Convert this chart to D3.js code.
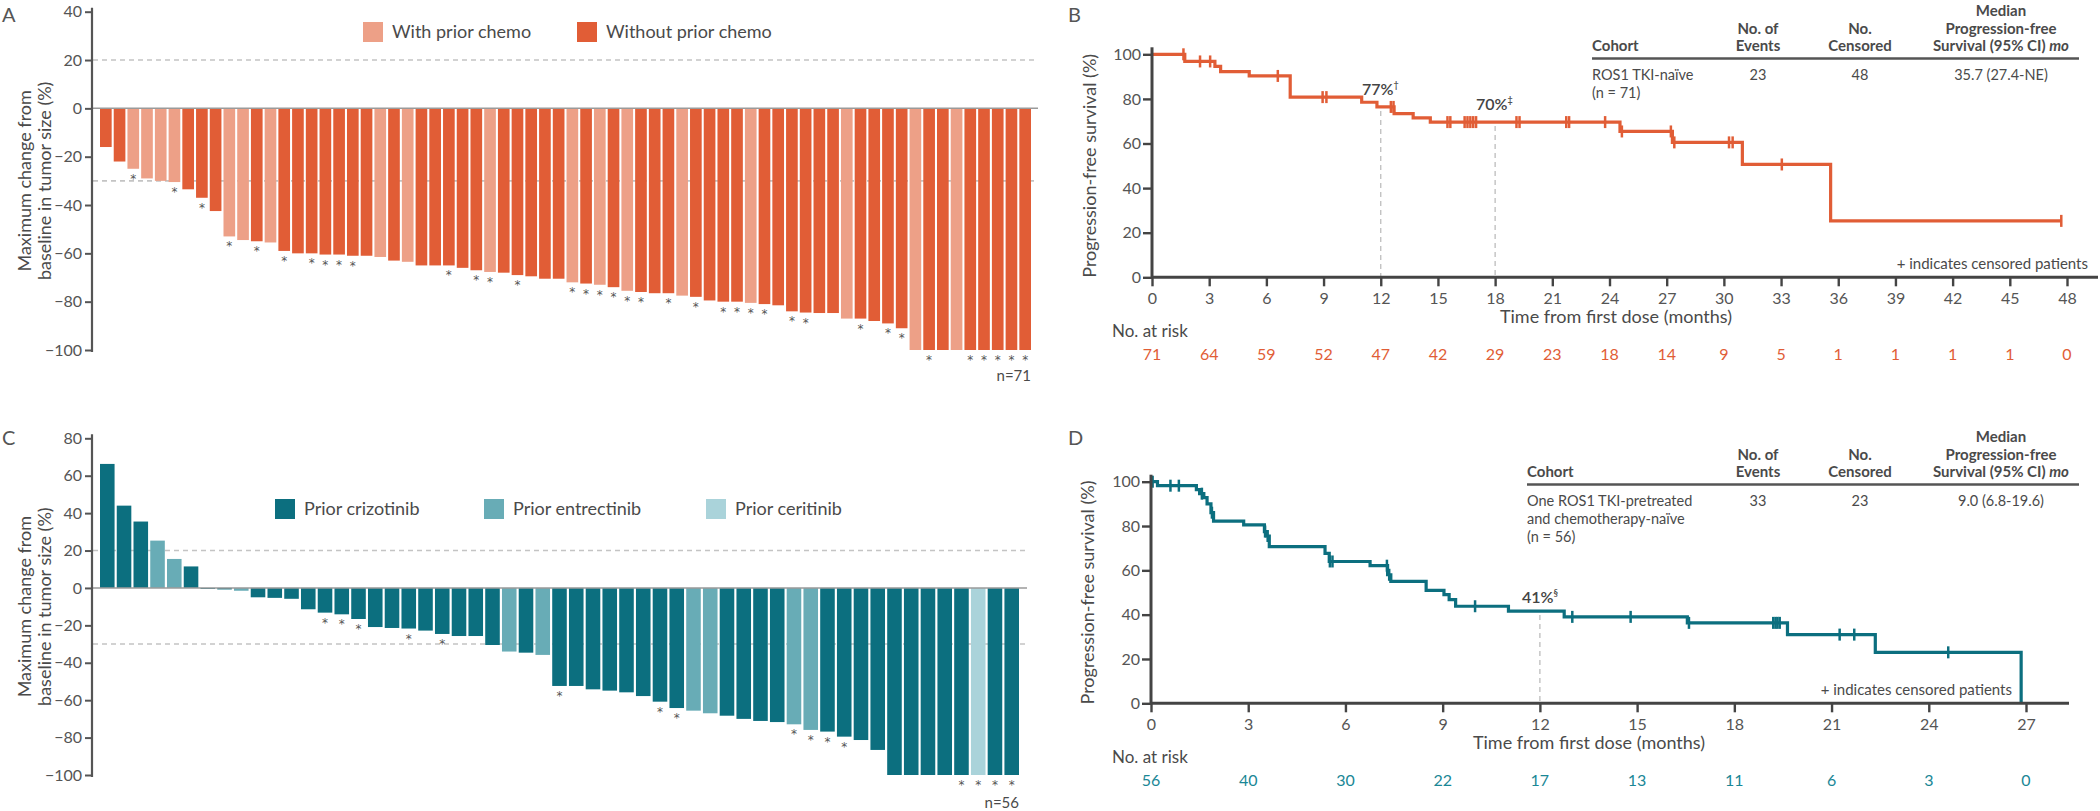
<!DOCTYPE html>
<html><head><meta charset="utf-8">
<script src="https://cdn.jsdelivr.net/npm/d3@7"></script>
<style>body{margin:0;background:#fff;} svg{display:block;}</style>
</head><body><svg id="c" width="2100" height="811"></svg>
<script>
// ---------- DATA ----------
// Panel A: waterfall, ROS1 TKI-naive
const valuesA = [-16,-22,-25,-29,-30,-30.5,-33.5,-37,-42.5,-53,-54.5,-55,-55.5,-59,-60,-60,-60.5,-60.5,-61,-61,
 -61.5,-63,-63.5,-65,-65,-65,-66,-67,-67.7,-68,-69,-69.5,-70.5,-70.5,-72,-72.5,-73,-74,-75.5,-76,
 -76.5,-76.5,-77.5,-78,-79.5,-80,-80,-80.5,-81,-81.5,-84,-84.5,-84.7,-84.7,-87,-87,-88,-89,-91,
 -100,-100,-100,-100,-100,-100,-100,-100,-100];
const withChemoA = [3,4,5,6,10,11,13,21,23,29,35,37,39,43,48,55,60,63]; // 1-based bar numbers
const starsA = [3,6,8,10,12,14,16,17,18,19,26,28,29,31,35,36,37,38,39,40,42,44,46,47,48,49,51,52,56,58,59,61,64,65,66,67,68];
const ticksA = [40,20,0,-20,-40,-60,-80,-100];
const legendA = ["With prior chemo","Without prior chemo"];

// Panel C: waterfall, one prior ROS1 TKI
const valuesC = [66.3,44,35.5,25.3,15.5,11.5,-0.4,-0.8,-1.5,-5,-5.3,-5.8,-11.4,-13.2,-14.1,-16.6,-20.9,-21.4,-21.7,-22.8,
 -24.6,-25.7,-25.7,-30.5,-34,-34.6,-35.8,-52.4,-52.4,-54.2,-54.9,-55.8,-57.8,-60.8,-64.2,-65.6,-67,-68.3,-70,-71.1,
 -71.7,-72.9,-75.9,-76.8,-79.5,-81.3,-86.6,-100,-100,-100,-100,-100,-100,-100,-100];
const entrectinibC = [4,5,9,25,27,36,37,42,43];
const ceritinibC = [53];
const starsC = [14,15,16,19,21,28,34,35,42,43,44,45,52,53,54,55];
const ticksC = [80,60,40,20,0,-20,-40,-60,-80,-100];
const legendC = ["Prior crizotinib","Prior entrectinib","Prior ceritinib"];

// Panel B: KM, ROS1 TKI-naive
const stepTimesB = [0,1.72,3.3,3.6,5.1,7.25,11.0,11.8,12.7,13.7,14.6,24.55,27.3,30.97,35.6];
const stepSurvB  = [100,96.8,94.6,92.2,90.3,80.8,78.5,76.4,73.4,71.5,69.6,65.4,60.5,50.6,25.3];
const endB = 47.7;
const censorB = [1.65,2.52,3.05,6.6,8.95,9.15,12.53,12.67,15.5,15.65,16.4,16.55,16.7,16.85,17.0,19.12,19.28,21.73,21.88,23.77,24.65,27.22,27.4,30.27,30.46,33.04,47.7];
const ticksXB = d3.range(0,49,3);
const atRiskB = [71,64,59,52,47,42,29,23,18,14,9,5,1,1,1,1,0];
const tableB = {cohort:["ROS1 TKI-naïve","(n = 71)"], events:"23", censored:"48", median:"35.7 (27.4-NE)"};

// Panel D: KM, one ROS1 TKI-pretreated
const stepTimesD = [0,0.2,1.4,1.5,1.63,1.73,1.85,1.93,2.86,3.5,3.56,3.65,5.37,5.5,6.76,7.3,7.4,8.49,9.04,9.2,9.4,11.03,12.75,16.55,19.64,22.35,26.85];
const stepSurvD  = [100,98.2,96.4,94.6,92.8,90.0,86.0,82.2,80.5,77.5,75.5,70.7,67.7,64.0,62.1,58.0,55.0,51.0,49.0,46.8,43.8,41.6,39.0,36.3,31.0,23.0,0];
const censorD = [0.05,0.6,0.86,1.57,1.88,3.52,3.6,5.52,5.6,7.28,7.35,10.0,13.0,14.8,16.6,19.2,19.27,19.33,19.4,21.25,21.7,24.6];
const ticksXD = d3.range(0,28,3);
const atRiskD = [56,40,30,22,17,13,11,6,3,0];
const tableD = {cohort:["One ROS1 TKI-pretreated","and chemotherapy-naïve","(n = 56)"], events:"33", censored:"23", median:"9.0 (6.8-19.6)"};

const ticksYKM = [0,20,40,60,80,100];

// ---------- STYLE ----------
const FONT = "Lato, 'Noto Sans', sans-serif";
const TXT = "#4a4a4a";
const ORANGE = "#E15D36", SALMON = "#EDA087";
const TEAL = "#0C6F7F", TEAL_M = "#68ACB6", TEAL_L = "#AAD3DA";
const svg = d3.select("#c").style("font-family", FONT);

function text(g, x, y, s, opt={}) {
  const t = g.append("text").attr("x", x).attr("y", y).text(s)
    .attr("fill", opt.fill || TXT).attr("font-size", opt.size || 16)
    .attr("text-anchor", opt.anchor || "start");
  if (opt.weight) t.attr("font-weight", opt.weight);
  return t;
}

// ---------- WATERFALL ----------
function waterfall(cfg) {
  const g = svg.append("g");
  const n = cfg.values.length;
  const x = d3.scaleBand().domain(d3.range(n)).range(cfg.xr).paddingInner(cfg.pad);
  const y = d3.scaleLinear().domain(cfg.yd).range(cfg.yr);
  // reference lines
  [20,-30].forEach(v => g.append("line").attr("x1", 93).attr("x2", cfg.lineEnd)
    .attr("y1", y(v)).attr("y2", y(v)).attr("stroke", "#c4c4c4").attr("stroke-width", 1.6)
    .attr("stroke-dasharray", "5,4"));
  // bars
  g.selectAll("rect.bar").data(cfg.values).join("rect").attr("class","bar")
    .attr("x", (d,i) => x(i)).attr("width", x.bandwidth())
    .attr("y", d => Math.min(y(0), y(d))).attr("height", d => Math.max(1, Math.abs(y(d) - y(0))))
    .attr("fill", (d,i) => cfg.color(i+1));
  // zero line
  g.append("line").attr("x1", 93).attr("x2", cfg.lineEnd + 2).attr("y1", y(0)).attr("y2", y(0))
    .attr("stroke", "#9a9a9a").attr("stroke-width", 1.5);
  // stars
  g.selectAll("text.star").data(cfg.stars).join("text").attr("class","star")
    .attr("x", d => x(d-1) + x.bandwidth()/2)
    .attr("y", d => Math.max(y(0), y(cfg.values[d-1])) + 14)
    .attr("text-anchor","middle").attr("font-size", 12).attr("font-family", "'DejaVu Sans', sans-serif")
    .attr("fill", "#555").text("*");
  // axis
  const ax = g.append("g").attr("transform", "translate(92,0)")
    .call(d3.axisLeft(y).tickValues(cfg.ticks).tickSize(7).tickPadding(3).tickFormat(d => d < 0 ? "\u2212" + (-d) : d));
  ax.select(".domain").remove();
  ax.selectAll(".tick line").attr("stroke", "#555").attr("stroke-width", 2);
  ax.selectAll(".tick text").attr("fill", "#555").attr("font-size", 16).attr("font-family", FONT);
  g.append("line").attr("x1", 92).attr("x2", 92).attr("y1", cfg.yr[1] - 4).attr("y2", cfg.yr[0] + 2)
    .attr("stroke", "#555").attr("stroke-width", 2.2);
  // y label
  const cy = (cfg.yr[0] + cfg.yr[1]) / 2;
  const lab = g.append("text").attr("transform", `translate(31,${cy}) rotate(-90)`)
    .attr("text-anchor","middle").attr("font-size", 18).attr("fill", TXT);
  lab.append("tspan").attr("x", 0).attr("dy", 0).text("Maximum change from");
  lab.append("tspan").attr("x", 0).attr("dy", 20).text("baseline in tumor size (%)");
  // panel letter
  text(g, 2, cfg.letterY, cfg.letter, {size: 20, fill: "#555"});
  // legend
  cfg.legend.forEach((l, i) => {
    g.append("rect").attr("x", l.x).attr("y", cfg.legY).attr("width", 20).attr("height", 20).attr("fill", l.color);
    text(g, l.x + 29, cfg.legY + 16, l.label, {size: 18});
  });
  text(g, cfg.nX, cfg.nY, cfg.nLabel, {size: 15, anchor: "end"});
}

waterfall({
  values: valuesA, xr: [100, 1031], pad: 0.15, yd: [-100, 40], yr: [350, 11.7], lineEnd: 1036,
  color: i => withChemoA.includes(i) ? SALMON : ORANGE, stars: starsA, ticks: ticksA,
  letter: "A", letterY: 22, legY: 22,
  legend: [{x: 363, label: legendA[0], color: SALMON}, {x: 577, label: legendA[1], color: ORANGE}],
  nX: 1031, nY: 381, nLabel: "n=71"
});
waterfall({
  values: valuesC, xr: [100, 1019], pad: 0.13, yd: [-100, 80], yr: [775, 438.3], lineEnd: 1025,
  color: i => ceritinibC.includes(i) ? TEAL_L : (entrectinibC.includes(i) ? TEAL_M : TEAL),
  stars: starsC, ticks: ticksC, letter: "C", letterY: 445, legY: 499,
  legend: [{x: 275, label: legendC[0], color: TEAL}, {x: 484, label: legendC[1], color: TEAL_M}, {x: 706, label: legendC[2], color: TEAL_L}],
  nX: 1019, nY: 808, nLabel: "n=56"
});

// ---------- KAPLAN-MEIER ----------
function km(cfg) {
  const g = svg.append("g");
  const x = d3.scaleLinear().domain(cfg.xd).range(cfg.xr);
  const y = d3.scaleLinear().domain([0,100]).range(cfg.yr);
  const levelAt = t => { let v = cfg.surv[0]; cfg.times.forEach((s,i) => { if (s <= t) v = cfg.surv[i]; }); return v; };
  // table
  const tb = cfg.table, hy = cfg.tableY;
  const cols = {ev: 1758, ce: 1860, me: 2001};
  text(g, cfg.cohortX, hy, "Cohort", {size: 15, weight: 700});
  text(g, cols.ev, hy - 17.5, "No. of", {size: 15, weight: 700, anchor: "middle"});
  text(g, cols.ev, hy, "Events", {size: 15, weight: 700, anchor: "middle"});
  text(g, cols.ce, hy - 17.5, "No.", {size: 15, weight: 700, anchor: "middle"});
  text(g, cols.ce, hy, "Censored", {size: 15, weight: 700, anchor: "middle"});
  text(g, cols.me, hy - 35, "Median", {size: 15, weight: 700, anchor: "middle"});
  text(g, cols.me, hy - 17.5, "Progression-free", {size: 15, weight: 700, anchor: "middle"});
  const sv = text(g, cols.me, hy, "Survival (95% CI) ", {size: 15, weight: 700, anchor: "middle"});
  sv.append("tspan").attr("font-style", "italic").text("mo");
  g.append("line").attr("x1", cfg.cohortX).attr("x2", 2079).attr("y1", hy + 7.5).attr("y2", hy + 7.5)
    .attr("stroke", "#555").attr("stroke-width", 2.4);
  tb.cohort.forEach((c, i) => text(g, cfg.cohortX, hy + 29 + i * 18, c, {size: 14.5}));
  text(g, cols.ev, hy + 29, tb.events, {size: 14.5, anchor: "middle"});
  text(g, cols.ce, hy + 29, tb.censored, {size: 14.5, anchor: "middle"});
  text(g, cols.me, hy + 29, tb.median, {size: 14.5, anchor: "middle"});
  // dashed landmark lines + labels
  cfg.marks.forEach(m => {
    g.append("line").attr("x1", x(m.t)).attr("x2", x(m.t)).attr("y1", y(levelAt(m.t)) + 4).attr("y2", y(0))
      .attr("stroke", "#bdbdbd").attr("stroke-width", 1.3).attr("stroke-dasharray", "5,4");
    const t = text(g, m.lx, m.ly, m.label, {size: 16, fill: "#444", weight: 600});
    t.append("tspan").attr("font-size", 9).attr("dy", -7).text(m.sup);
  });
  // curve
  const pts = cfg.times.map((t,i) => [t, cfg.surv[i]]);
  pts.push([cfg.end, cfg.surv[cfg.surv.length-1]]);
  g.append("path").attr("d", d3.line().x(d => x(d[0])).y(d => y(d[1])).curve(d3.curveStepAfter)(pts))
    .attr("fill", "none").attr("stroke", cfg.color).attr("stroke-width", 3.2);
  g.selectAll("line.cens").data(cfg.censor).join("line").attr("class","cens")
    .attr("x1", d => x(d)).attr("x2", d => x(d)).attr("y1", d => y(levelAt(d)) - 6).attr("y2", d => y(levelAt(d)) + 6)
    .attr("stroke", cfg.color).attr("stroke-width", 2.5);
  // axes
  g.append("line").attr("x1", x(0) - 1).attr("x2", cfg.axisEnd).attr("y1", y(0)).attr("y2", y(0))
    .attr("stroke", "#444").attr("stroke-width", 3);
  g.append("line").attr("x1", x(0)).attr("x2", x(0)).attr("y1", y(100) - 7).attr("y2", y(0))
    .attr("stroke", "#444").attr("stroke-width", 3);
  const ax = g.append("g").attr("transform", `translate(0,${y(0)})`)
    .call(d3.axisBottom(x).tickValues(cfg.ticksX).tickSize(9).tickPadding(6));
  ax.select(".domain").remove();
  ax.selectAll(".tick line").attr("stroke", "#444").attr("stroke-width", 2.4);
  ax.selectAll(".tick text").attr("fill", "#555").attr("font-size", 16).attr("font-family", FONT);
  const ay = g.append("g").attr("transform", `translate(${x(0)},0)`)
    .call(d3.axisLeft(y).tickValues(ticksYKM).tickSize(9).tickPadding(2));
  ay.select(".domain").remove();
  ay.selectAll(".tick line").attr("stroke", "#444").attr("stroke-width", 2.4);
  ay.selectAll(".tick text").attr("fill", "#555").attr("font-size", 16).attr("font-family", FONT);
  // labels
  text(g, cfg.xlabX, y(0) + 46, "Time from first dose (months)", {size: 18, anchor: "middle"});
  g.append("text").attr("transform", `translate(${cfg.ylabX},${(y(0)+y(100))/2}) rotate(-90)`)
    .attr("text-anchor","middle").attr("font-size", 18).attr("fill", TXT).text("Progression-free survival (%)");
  text(g, 1068, cfg.letterY, cfg.letter, {size: 20, fill: "#555"});
  text(g, cfg.noteX, y(0) - 8, "+ indicates censored patients", {size: 15, anchor: "end"});
  // at risk
  text(g, 1112, y(0) + 60, "No. at risk", {size: 17});
  g.selectAll("text.risk").data(cfg.atRisk).join("text").attr("class","risk")
    .attr("x", (d,i) => x(cfg.ticksX[i])).attr("y", y(0) + 83).attr("text-anchor","middle")
    .attr("font-size", 16).attr("fill", cfg.riskColor).text(d => d);
}

km({
  xd: [0,48], xr: [1152, 2067], yr: [277.3, 54.3], times: stepTimesB, surv: stepSurvB, end: endB,
  censor: censorB, ticksX: ticksXB, atRisk: atRiskB, color: ORANGE, riskColor: ORANGE,
  table: tableB, tableY: 51, cohortX: 1592, axisEnd: 2098, xlabX: 1616, ylabX: 1096,
  letter: "B", letterY: 22, noteX: 2088,
  marks: [{t: 12, label: "77%", sup: "†", lx: 1362, ly: 95}, {t: 18, label: "70%", sup: "‡", lx: 1476, ly: 110}]
});
km({
  xd: [0,27], xr: [1151, 2026], yr: [703.3, 481.7], times: stepTimesD, surv: stepSurvD, end: 26.85,
  censor: censorD, ticksX: ticksXD, atRisk: atRiskD, color: TEAL, riskColor: "#1A8796",
  table: tableD, tableY: 477, cohortX: 1527, axisEnd: 2069, xlabX: 1589, ylabX: 1094,
  letter: "D", letterY: 445, noteX: 2012,
  marks: [{t: 12, label: "41%", sup: "§", lx: 1522, ly: 603}]
});
</script></body></html>
